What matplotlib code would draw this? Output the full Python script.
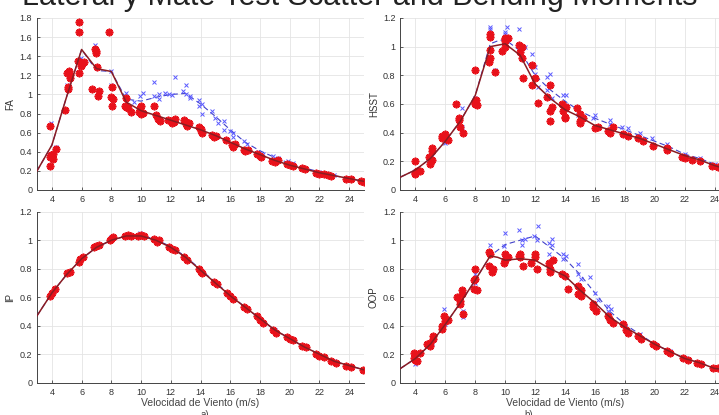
import matplotlib.pyplot as plt
from matplotlib.ticker import FuncFormatter, MultipleLocator

plt.rcParams['font.family'] = ['Liberation Sans', 'DejaVu Sans']

# ---------------- FA ----------------
fa_line_x = [3, 4, 5, 6, 7, 8, 9, 10, 11, 12, 13, 14, 15, 16, 17, 18, 19, 20, 21, 22, 23, 24, 25]
fa_red_line = [0.2, 0.47, 0.98, 1.47, 1.27, 1.24, 0.92, 0.83, 0.78, 0.73, 0.68, 0.63, 0.57, 0.5,
               0.43, 0.37, 0.31, 0.26, 0.22, 0.18, 0.15, 0.12, 0.09]
fa_blue_line = [0.2, 0.47, 0.98, 1.47, 1.25, 1.24, 0.95, 0.93, 0.97, 1.0, 1.01, 0.9, 0.77, 0.63,
                0.5, 0.41, 0.34, 0.28, 0.23, 0.19, 0.15, 0.12, 0.09]
fa_red_x = [3.9, 3.9, 3.9, 3.95, 4.1, 4.1, 4.3, 4.9, 5.0, 5.1, 5.1, 5.15, 5.2, 5.2, 5.8, 5.85,
            5.75, 5.85, 5.95, 6.05, 6.15, 6.7, 6.95, 6.9, 7.0, 7.05, 7.1, 7.15, 7.85, 8.05, 8.0,
            8.1, 8.05, 9.0, 8.95, 9.1, 9.3, 9.0, 10.0, 9.85, 10.0, 10.1, 9.9, 10.85, 11.0, 11.15,
            11.3, 11.8, 12.0, 12.2, 12.1, 12.3, 12.9, 13.0, 13.1, 13.2, 13.05, 13.9, 14.0, 14.1,
            14.05, 14.8, 14.9, 15.05, 15.7, 16.1, 16.2, 16.3, 16.9, 17.0, 17.2, 17.8, 18.0, 18.1,
            18.8, 19.0, 19.2, 19.8, 20.0, 20.2, 20.8, 21.0, 21.8, 22.0, 22.3, 22.6, 22.8, 23.8,
            24.1, 24.8, 25.0]
fa_red_y = [0.25, 0.35, 0.67, 0.37, 0.32, 0.38, 0.43, 0.84, 1.22, 1.06, 1.08, 1.24, 1.17, 1.2,
            1.65, 1.76, 1.35, 1.22, 1.3, 1.32, 1.34, 1.06, 1.45, 1.48, 1.43, 1.29, 0.98, 1.04,
            1.65, 1.08, 0.97, 0.95, 0.88, 0.96, 0.88, 0.86, 0.82, 0.87, 0.88, 0.82, 0.8, 0.81,
            0.86, 0.88, 0.78, 0.74, 0.72, 0.73, 0.72, 0.71, 0.7, 0.74, 0.73, 0.69, 0.67, 0.7,
            0.71, 0.66, 0.62, 0.6, 0.64, 0.58, 0.55, 0.56, 0.52, 0.47, 0.45, 0.48, 0.42, 0.41,
            0.42, 0.38, 0.36, 0.34, 0.3, 0.29, 0.31, 0.27, 0.26, 0.25, 0.23, 0.22, 0.18, 0.17,
            0.17, 0.16, 0.15, 0.12, 0.11, 0.09, 0.08]
fa_blue_x = [3.95, 4.3, 5.05, 5.8, 5.95, 6.9, 7.95, 8.0, 9.0, 9.0, 9.5, 9.9, 10.1, 10.9, 10.9,
             11.2, 11.2, 11.6, 11.9, 12.1, 12.3, 12.8, 13.0, 13.0, 13.3, 13.3, 13.9, 13.9, 14.1,
             14.1, 14.8, 15.0, 15.2, 15.6, 15.6, 16.0, 16.2, 16.2, 16.9, 17.1, 17.9, 18.2, 18.9,
             19.2, 19.9, 20.2, 20.8, 22.0, 23.0, 24.0]
fa_blue_y = [0.7, 0.45, 1.1, 1.66, 1.38, 1.52, 1.25, 1.1, 1.01, 0.92, 0.92, 0.98, 1.02, 1.13,
             0.98, 0.95, 1.0, 1.01, 1.0, 0.99, 1.18, 1.04, 1.1, 1.0, 0.98, 0.96, 0.94, 0.88, 0.9,
             0.8, 0.83, 0.75, 0.7, 0.72, 0.63, 0.62, 0.6, 0.55, 0.51, 0.48, 0.4, 0.38, 0.36,
             0.33, 0.3, 0.28, 0.24, 0.19, 0.16, 0.13]

# ---------------- HSST ----------------
hs_line_x = [3, 4, 5, 6, 7, 8, 9, 9.5, 10, 11, 12, 13, 14, 15, 16, 17, 18, 19, 20, 21, 22, 23, 24, 25]
hs_red_line = [0.09, 0.14, 0.22, 0.34, 0.48, 0.66, 1.0, 1.01, 1.02, 0.94, 0.74, 0.64, 0.56, 0.51,
               0.45, 0.42, 0.39, 0.36, 0.32, 0.28, 0.24, 0.21, 0.17, 0.14]
hs_blue_line = [0.09, 0.14, 0.22, 0.34, 0.48, 0.66, 1.02, 1.04, 1.05, 0.97, 0.8, 0.7, 0.62, 0.55,
                0.5, 0.46, 0.42, 0.38, 0.34, 0.3, 0.25, 0.22, 0.18, 0.15]
hs_red_x = [3.95, 3.95, 3.95, 4.1, 4.3, 4.9, 5.0, 5.1, 5.1, 5.1, 5.8, 5.8, 6.0, 6.0, 6.2, 6.7,
            6.9, 6.9, 7.0, 7.2, 7.95, 8.0, 8.0, 8.05, 8.1, 7.95, 8.9, 9.0, 9.0, 9.0, 9.0, 9.3,
            9.8, 10.0, 10.0, 10.0, 10.0, 10.2, 10.9, 11.0, 11.1, 11.1, 11.2, 11.8, 11.8, 12.0,
            12.2, 12.8, 13.0, 13.0, 13.0, 13.1, 13.8, 13.9, 14.0, 14.0, 14.1, 14.8, 15.0, 15.0,
            15.0, 15.2, 16.0, 16.2, 16.9, 17.0, 17.2, 17.9, 18.2, 18.9, 19.2, 19.9, 20.8, 20.8,
            21.8, 22.0, 22.5, 23.0, 23.8, 24.2]
hs_red_y = [0.2, 0.12, 0.11, 0.13, 0.13, 0.23, 0.18, 0.21, 0.29, 0.27, 0.38, 0.36, 0.37, 0.39,
            0.35, 0.6, 0.5, 0.49, 0.44, 0.4, 0.84, 0.6, 0.62, 0.63, 0.59, 0.61, 0.89, 1.07, 1.09,
            0.98, 0.92, 0.82, 0.97, 1.0, 1.05, 1.06, 1.04, 1.06, 1.01, 0.96, 1.0, 0.92, 0.78,
            0.87, 0.73, 0.78, 0.61, 0.65, 0.73, 0.55, 0.48, 0.58, 0.6, 0.55, 0.51, 0.5, 0.58,
            0.57, 0.48, 0.47, 0.53, 0.5, 0.43, 0.44, 0.41, 0.4, 0.44, 0.39, 0.38, 0.36, 0.34,
            0.31, 0.29, 0.28, 0.23, 0.22, 0.21, 0.2, 0.17, 0.16]
hs_blue_x = [4.0, 5.1, 6.0, 7.1, 7.1, 8.0, 9.0, 9.0, 9.3, 10.0, 10.0, 10.1, 10.9, 11.3, 11.8,
             12.0, 12.0, 12.2, 12.8, 12.8, 13.0, 13.1, 13.9, 14.1, 14.1, 14.9, 14.9, 15.9, 16.0,
             17.0, 17.0, 17.8, 18.2, 19.0, 19.8, 20.8, 22.0, 23.0, 24.0]
hs_blue_y = [0.13, 0.24, 0.33, 0.57, 0.44, 0.64, 1.14, 1.12, 0.84, 1.1, 1.09, 1.14, 1.12, 1.0,
             0.95, 0.86, 0.81, 0.72, 0.79, 0.7, 0.81, 0.64, 0.66, 0.66, 0.59, 0.57, 0.52, 0.5,
             0.52, 0.49, 0.46, 0.44, 0.43, 0.4, 0.36, 0.32, 0.25, 0.22, 0.18]

# ---------------- IP ----------------
ip_line_x = [3, 4, 5, 6, 7, 8, 9, 10, 11, 12, 13, 14, 15, 16, 17, 18, 19, 20, 21, 22, 23, 24, 25]
ip_red_line = [0.47, 0.63, 0.76, 0.87, 0.95, 1.0, 1.03, 1.03, 1.0, 0.95, 0.88, 0.79, 0.7, 0.61,
               0.53, 0.45, 0.37, 0.31, 0.25, 0.2, 0.15, 0.12, 0.09]
ip_blue_line = [0.47, 0.63, 0.76, 0.87, 0.95, 1.0, 1.03, 1.035, 1.005, 0.955, 0.885, 0.795, 0.705,
                0.615, 0.53, 0.45, 0.37, 0.31, 0.25, 0.2, 0.15, 0.12, 0.09]
ip_red_x = [3.9, 4.0, 4.2, 5.0, 5.2, 5.8, 5.9, 6.1, 6.8, 7.0, 7.2, 7.9, 8.0, 8.1, 8.9, 9.1, 9.3,
            9.8, 10.0, 10.2, 10.9, 11.1, 11.2, 11.9, 12.1, 12.3, 12.9, 13.1, 13.9, 14.0, 14.1,
            14.9, 15.1, 15.8, 16.0, 16.2, 16.9, 17.1, 17.8, 18.0, 18.2, 18.9, 19.1, 19.8, 20.0,
            20.2, 20.8, 21.1, 21.8, 22.0, 22.3, 22.8, 23.1, 23.8, 24.1, 24.9]
ip_red_y = [0.61, 0.63, 0.66, 0.77, 0.78, 0.85, 0.87, 0.88, 0.95, 0.96, 0.97, 1.0, 1.01, 1.02,
            1.03, 1.04, 1.03, 1.03, 1.04, 1.03, 1.01, 0.99, 1.0, 0.95, 0.94, 0.93, 0.88, 0.86,
            0.8, 0.78, 0.77, 0.71, 0.69, 0.63, 0.61, 0.59, 0.53, 0.52, 0.47, 0.44, 0.42, 0.37,
            0.35, 0.32, 0.31, 0.3, 0.26, 0.25, 0.2, 0.19, 0.18, 0.15, 0.14, 0.12, 0.11, 0.09]
ip_blue_x = [4.0, 6.0, 8.0, 9.9, 11.1, 12.9, 15.0, 17.0, 19.0, 21.0, 23.0]
ip_blue_y = [0.64, 0.88, 1.02, 1.05, 1.01, 0.89, 0.71, 0.53, 0.37, 0.26, 0.15]

# ---------------- OOP ----------------
op_line_x = [3, 4, 5, 6, 7, 8, 9, 9.5, 10, 11, 12, 13, 14, 15, 16, 17, 18, 19, 20, 21, 22, 23, 24, 25]
op_red_line = [0.1, 0.17, 0.27, 0.41, 0.56, 0.72, 0.89, 0.88, 0.86, 0.87, 0.86, 0.8, 0.75, 0.65,
               0.56, 0.46, 0.39, 0.33, 0.27, 0.22, 0.17, 0.14, 0.1, 0.09]
op_blue_line = [0.1, 0.17, 0.27, 0.41, 0.56, 0.72, 0.89, 0.93, 0.97, 1.0, 1.03, 0.95, 0.87, 0.76,
                0.63, 0.5, 0.41, 0.34, 0.27, 0.22, 0.17, 0.14, 0.1, 0.09]
op_red_x = [3.9, 3.9, 4.0, 4.1, 4.3, 4.8, 5.0, 5.0, 5.2, 5.2, 5.8, 5.8, 5.9, 6.0, 6.2, 6.8, 7.0,
            7.0, 7.1, 7.1, 7.2, 7.9, 7.9, 8.0, 8.0, 8.1, 8.9, 8.9, 9.0, 9.1, 9.2, 9.9, 10.0,
            10.0, 10.2, 10.9, 11.0, 11.0, 11.2, 11.7, 12.0, 12.0, 12.1, 12.9, 13.0, 13.0, 13.2,
            13.8, 14.0, 14.2, 14.9, 14.9, 15.1, 15.1, 15.9, 15.9, 16.1, 16.9, 17.0, 17.2, 17.9,
            18.1, 18.2, 18.9, 19.1, 19.9, 20.1, 20.8, 21.0, 21.9, 22.2, 22.8, 23.1, 23.9, 24.2]
op_red_y = [0.17, 0.21, 0.16, 0.15, 0.21, 0.27, 0.26, 0.28, 0.33, 0.31, 0.4, 0.38, 0.47, 0.43,
            0.44, 0.6, 0.55, 0.57, 0.65, 0.62, 0.48, 0.66, 0.72, 0.73, 0.8, 0.65, 0.92, 0.82,
            0.9, 0.78, 0.8, 0.84, 0.86, 0.9, 0.88, 0.89, 0.88, 0.9, 0.82, 0.84, 0.9, 0.88, 0.8,
            0.84, 0.78, 0.8, 0.86, 0.76, 0.75, 0.66, 0.68, 0.62, 0.65, 0.61, 0.55, 0.53, 0.5,
            0.47, 0.44, 0.42, 0.41, 0.37, 0.35, 0.33, 0.31, 0.27, 0.26, 0.22, 0.21, 0.17, 0.16,
            0.14, 0.13, 0.1, 0.1]
op_blue_x = [4.0, 4.0, 5.1, 5.9, 5.9, 6.0, 7.0, 7.2, 7.2, 8.0, 8.0, 9.0, 9.0, 9.9, 9.9, 10.0,
             10.9, 11.1, 11.1, 11.3, 11.9, 12.1, 12.2, 12.9, 12.9, 13.1, 13.1, 13.9, 13.9, 14.1,
             14.9, 14.9, 15.1, 15.7, 16.0, 16.2, 16.9, 16.9, 17.1, 18.0, 19.0, 20.0, 21.0, 22.0,
             24.0]
op_blue_y = [0.13, 0.18, 0.28, 0.52, 0.45, 0.41, 0.58, 0.46, 0.5, 0.76, 0.7, 0.97, 0.81, 0.96,
             0.88, 1.05, 1.07, 0.97, 1.0, 1.01, 1.03, 1.0, 1.1, 0.9, 0.98, 1.01, 0.97, 0.9, 0.87,
             0.89, 0.83, 0.76, 0.73, 0.74, 0.63, 0.58, 0.54, 0.5, 0.52, 0.4, 0.34, 0.27, 0.22,
             0.17, 0.1]

x_ticks = [4, 6, 8, 10, 12, 14, 16, 18, 20, 22, 24]

RED = '#e8111a'
BLUE = '#5a5aff'
LINE_RED = '#8a1c22'
LINE_BLUE = '#4040c8'
ASTERISK = (8, 2, 0)   # matlab-like '*' marker


def draw_panel(ax, line_x, red_line, blue_line, rx, ry, bx, by, ylabel, ymax, ystep):
    ax.plot(line_x, blue_line, color=LINE_BLUE, linestyle=(0, (5, 3)), linewidth=0.8, zorder=3)
    ax.plot(bx, by, linestyle='none', marker='x', color=BLUE, markersize=3.0,
            markeredgewidth=0.7, zorder=4)
    ax.plot(rx, ry, linestyle='none', marker=ASTERISK, color=RED, markersize=5.5,
            markeredgewidth=1.3, zorder=5)
    ax.plot(line_x, red_line, color=LINE_RED, linewidth=1.1, zorder=6)

    ax.set_xlim(3, 25)
    ax.set_ylim(0, ymax)
    ax.set_xticks(x_ticks)
    ax.yaxis.set_major_locator(MultipleLocator(ystep))
    ax.yaxis.set_major_formatter(FuncFormatter(lambda v, p: '%g' % round(v, 2)))
    ax.tick_params(direction='in', labelsize=6.5, length=2.5, width=0.6,
                   colors='#444444', labelcolor='#333333')
    ax.grid(True, color='#e4e4e4', linewidth=0.6)
    ax.set_axisbelow(True)
    for side in ('top', 'right'):
        ax.spines[side].set_visible(False)
    for side in ('left', 'bottom'):
        ax.spines[side].set_color('#444444')
        ax.spines[side].set_linewidth(0.7)
    ax.set_ylabel(ylabel, fontsize=7, color='#333333', labelpad=3)


fig = plt.figure(figsize=(7.19, 4.15), dpi=100)

ax_fa = fig.add_axes([0.0515, 0.5422, 0.4548, 0.4145])
ax_hs = fig.add_axes([0.557, 0.5422, 0.4576, 0.4145])
ax_ip = fig.add_axes([0.0515, 0.0778, 0.4548, 0.412])
ax_op = fig.add_axes([0.557, 0.0778, 0.4576, 0.412])

draw_panel(ax_fa, fa_line_x, fa_red_line, fa_blue_line, fa_red_x, fa_red_y,
           fa_blue_x, fa_blue_y, 'FA', 1.8, 0.2)
draw_panel(ax_hs, hs_line_x, hs_red_line, hs_blue_line, hs_red_x, hs_red_y,
           hs_blue_x, hs_blue_y, 'HSST', 1.2, 0.2)
draw_panel(ax_ip, ip_line_x, ip_red_line, ip_blue_line, ip_red_x, ip_red_y,
           ip_blue_x, ip_blue_y, 'IP', 1.2, 0.2)
draw_panel(ax_op, op_line_x, op_red_line, op_blue_line, op_red_x, op_red_y,
           op_blue_x, op_blue_y, 'OOP', 1.2, 0.2)

for ax in (ax_ip, ax_op):
    ax.set_xlabel('Velocidad de Viento (m/s)', fontsize=7.5, color='#444444', labelpad=1)

fig.text(0.285, -0.012, 'a)', fontsize=7, color='#444444', ha='center', va='bottom')
fig.text(0.735, -0.012, 'b)', fontsize=7, color='#444444', ha='center', va='bottom')

# page title above the figure, only its lower part is inside the picture
fig.text(0.5, 0.988, 'Lateral y Mate Test Scatter and Bending Moments', fontsize=22,
         ha='center', va='baseline', color='#222222')

fig.savefig('out.png', dpi=100)
